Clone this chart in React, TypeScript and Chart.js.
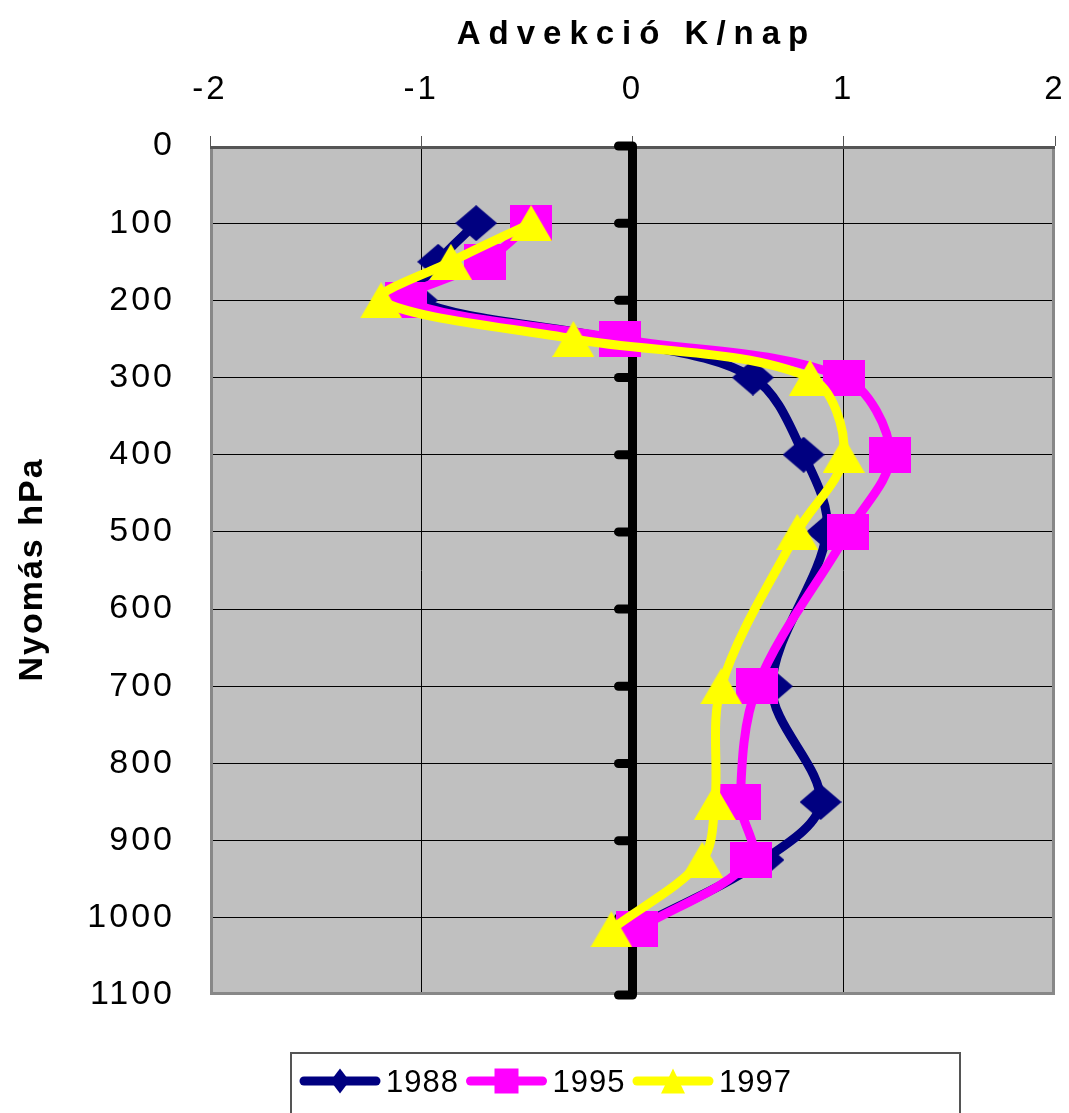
import React, { useEffect, useRef } from 'react';
import { Chart, registerables } from 'chart.js';

Chart.register(...registerables);

// ---- data ----
const pressureLevels = [100, 150, 200, 250, 300, 400, 500, 700, 850, 925, 1015];
const adv1988 = [-0.74, -0.92, -1.02, -0.1, 0.57, 0.81, 0.92, 0.66, 0.89, 0.62, 0.0];
const adv1995 = [-0.48, -0.7, -1.07, -0.06, 1.0, 1.22, 1.02, 0.59, 0.51, 0.56, 0.02];
const adv1997 = [-0.48, -0.86, -1.19, -0.28, 0.84, 1.0, 0.78, 0.42, 0.39, 0.33, -0.1];
const seriesNames = ['1988', '1995', '1997'];
const seriesColors = ['#000080', '#FF00FF', '#FFFF00'];
const seriesMarkers = ['diamond', 'square', 'triangle'];
const xMin = -2;
const xMax = 2;
const xStep = 1;
const yMin = 0;
const yMax = 1100;
const yStep = 100;
const xTitle = 'Advekció K/nap';
const yTitle = 'Nyomás hPa';

const FONT = "'Liberation Sans', Arial, sans-serif";

function shapePath(g: CanvasRenderingContext2D, shape: string, cx: number, cy: number, w: number, h: number) {
  g.beginPath();
  if (shape === 'diamond') {
    g.moveTo(cx, cy - h / 2);
    g.lineTo(cx + w / 2, cy);
    g.lineTo(cx, cy + h / 2);
    g.lineTo(cx - w / 2, cy);
  } else if (shape === 'square') {
    g.rect(cx - w / 2, cy - h / 2, w, h);
  } else {
    g.moveTo(cx, cy - h / 2);
    g.lineTo(cx + w / 2, cy + h / 2);
    g.lineTo(cx - w / 2, cy + h / 2);
  }
  g.closePath();
}

function makeMarker(shape: string, color: string, w: number, h: number) {
  const c = document.createElement('canvas');
  c.width = w;
  c.height = h;
  const g = c.getContext('2d')!;
  g.fillStyle = color;
  shapePath(g, shape, w / 2, h / 2, w, h);
  g.fill();
  return c;
}

const decorPlugin = {
  id: 'decor',
  beforeDraw(chart: any) {
    const { ctx, chartArea: a } = chart;
    ctx.save();
    ctx.fillStyle = '#C0C0C0';
    ctx.fillRect(a.left, a.top, a.right - a.left, a.bottom - a.top);
    ctx.restore();
    (ctx as any).letterSpacing = '3px';
  },
  beforeDatasetsDraw(chart: any) {
    const { ctx, chartArea: a, scales } = chart;
    ctx.save();
    // plot border
    ctx.lineWidth = 3;
    ctx.strokeStyle = '#888888';
    ctx.beginPath();
    ctx.moveTo(a.left + 1.5, a.top);
    ctx.lineTo(a.left + 1.5, a.bottom - 1.5);
    ctx.lineTo(a.right - 1.5, a.bottom - 1.5);
    ctx.lineTo(a.right - 1.5, a.top);
    ctx.stroke();
    ctx.strokeStyle = '#555555';
    ctx.beginPath();
    ctx.moveTo(a.left, a.top + 1.5);
    ctx.lineTo(a.right, a.top + 1.5);
    ctx.stroke();
    // vertical axis at x = 0
    const x0 = scales.x.getPixelForValue(0);
    ctx.strokeStyle = '#000';
    ctx.lineWidth = 9;
    ctx.lineCap = 'butt';
    ctx.beginPath();
    ctx.moveTo(x0, a.top);
    ctx.lineTo(x0, a.bottom);
    ctx.stroke();
    ctx.lineCap = 'round';
    scales.y.ticks.forEach((t: any) => {
      const y = scales.y.getPixelForValue(t.value);
      ctx.beginPath();
      ctx.moveTo(x0 - 14, y);
      ctx.lineTo(x0, y);
      ctx.stroke();
    });
    ctx.restore();
  },
  afterDraw(chart: any) {
    const { ctx, chartArea: a } = chart;
    ctx.save();
    ctx.fillStyle = '#000';
    // x title
    ctx.letterSpacing = '8px';
    ctx.font = `bold 33px ${FONT}`;
    ctx.textBaseline = 'alphabetic';
    ctx.textAlign = 'left';
    const wx = ctx.measureText(xTitle).width - 8;
    ctx.fillText(xTitle, (a.left + a.right) / 2 - wx / 2, 44);
    // y title
    ctx.letterSpacing = '2px';
    ctx.font = `bold 34px ${FONT}`;
    const wy = ctx.measureText(yTitle).width - 2;
    ctx.translate(42, (a.top + a.bottom) / 2);
    ctx.rotate(-Math.PI / 2);
    ctx.fillText(yTitle, -wy / 2, 0);
    ctx.setTransform(1, 0, 0, 1, 0, 0);
    // legend
    const boxL = 291, boxT = 1053, boxR = 960;
    ctx.fillStyle = '#fff';
    ctx.fillRect(boxL, boxT, boxR - boxL, 80);
    ctx.lineWidth = 2;
    ctx.strokeStyle = '#555';
    ctx.strokeRect(boxL, boxT, boxR - boxL, 80);
    const ly = 1081;
    ctx.letterSpacing = '1px';
    ctx.font = `31px ${FONT}`;
    chart.data.datasets.forEach((ds: any, i: number) => {
      const x = boxL + 13 + i * 166.5;
      ctx.strokeStyle = ds.borderColor;
      ctx.lineWidth = 9;
      ctx.lineCap = 'round';
      ctx.beginPath();
      ctx.moveTo(x, ly);
      ctx.lineTo(x + 72, ly);
      ctx.stroke();
      ctx.fillStyle = ds.borderColor;
      const shape = ds.markerShape;
      const mw = shape === 'diamond' ? 19 : 24;
      shapePath(ctx, shape, x + 36, ly, mw, 25);
      ctx.fill();
      ctx.fillStyle = '#000';
      ctx.fillText(ds.label, x + 82, 1092);
    });
    ctx.restore();
    (ctx as any).letterSpacing = '0px';
  },
};

export default function App() {
  const ref = useRef<HTMLCanvasElement | null>(null);
  useEffect(() => {
    const canvas = ref.current!;
    const series = [adv1988, adv1995, adv1997];
    const datasets = series.map((vals, i) => ({
      label: seriesNames[i],
      data: pressureLevels.map((p, k) => ({ x: vals[k], y: p })),
      borderColor: seriesColors[i],
      backgroundColor: seriesColors[i],
      borderWidth: 9,
      borderJoinStyle: 'round',
      borderCapStyle: 'round',
      pointStyle: makeMarker(seriesMarkers[i], seriesColors[i], 42, 36),
      pointRadius: 20,
      showLine: true,
      tension: 0.33,
      order: 3 - i,
      markerShape: seriesMarkers[i],
    }));
    const chart = new Chart(canvas, {
      type: 'scatter',
      data: { datasets } as any,
      options: {
        animation: false,
        responsive: false,
        devicePixelRatio: 1,
        events: [],
        layout: { autoPadding: false, padding: { left: 0, top: 0, right: 14, bottom: 118 } },
        plugins: { legend: { display: false }, tooltip: { enabled: false }, title: { display: false } },
        scales: {
          x: {
            type: 'linear',
            position: 'top',
            min: xMin,
            max: xMax,
            ticks: {
              stepSize: xStep,
              color: '#000',
              font: { family: FONT, size: 33 },
              padding: 26,
              callback: (v: any) => String(v),
            },
            grid: {
              color: (c: any) => (c.tick && (c.tick.value === 0 || c.tick.value === xMin || c.tick.value === xMax) ? 'rgba(0,0,0,0)' : '#000'),
              lineWidth: 1,
              tickColor: '#555',
              tickLength: 10,
              tickWidth: 1,
            },
            border: { display: false },
            afterFit: (s: any) => {
              s.height = 146;
              s.paddingLeft = 0;
              s.paddingRight = 0;
            },
          },
          y: {
            type: 'linear',
            position: 'left',
            reverse: true,
            min: yMin,
            max: yMax,
            ticks: {
              stepSize: yStep,
              color: '#000',
              font: { family: FONT, size: 34 },
              padding: 35,
              callback: (v: any) => String(v),
            },
            grid: {
              color: (c: any) => (c.tick && (c.tick.value === yMin || c.tick.value === yMax) ? 'rgba(0,0,0,0)' : '#000'),
              lineWidth: 1,
              drawTicks: false,
            },
            border: { display: false },
            afterFit: (s: any) => {
              s.width = 210;
              s.paddingTop = 0;
              s.paddingBottom = 0;
            },
          },
        },
      } as any,
      plugins: [decorPlugin as any],
    });
    return () => chart.destroy();
  }, []);
  return (
    <div style={{ position: 'absolute', left: 0, top: 0, width: 1069, height: 1113, background: '#fff' }}>
      <canvas ref={ref} width={1069} height={1113} style={{ display: 'block', width: 1069, height: 1113 }} />
    </div>
  );
}
